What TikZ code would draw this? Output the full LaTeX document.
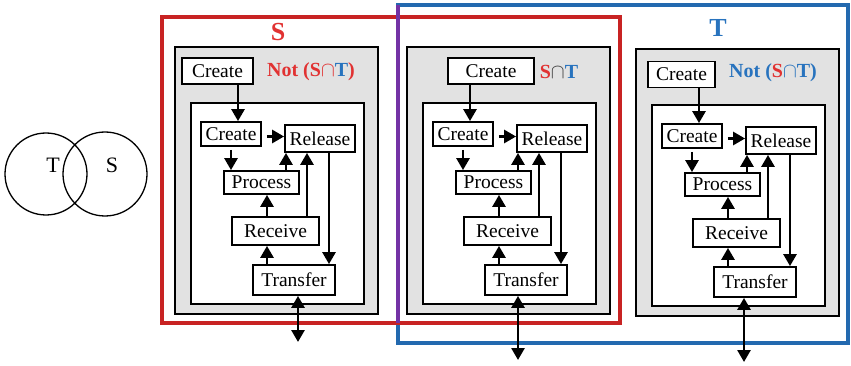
\documentclass[tikz,border=0pt]{standalone}
\usepackage{fontspec}
\setmainfont{Liberation Serif}
\usepackage{xcolor}
\usetikzlibrary{arrows.meta}

\definecolor{sred}{RGB}{200,35,35}
\definecolor{tblue}{RGB}{35,105,175}
\definecolor{stpurple}{RGB}{115,50,165}
\definecolor{lblred}{RGB}{225,50,50}
\definecolor{lblblue}{RGB}{40,115,190}
\definecolor{boxgray}{RGB}{226,226,226}

\tikzset{
  act/.style={draw, line width=1.8pt, fill=white, inner sep=0pt,
    font=\fontsize{19.5}{22}\selectfont},
  arr/.style={-{Triangle[width=13pt,length=12pt]}, line width=2.7pt},
  dblarr/.style={{Triangle[width=13pt,length=12pt]}-{Triangle[width=13pt,length=12pt]}, line width=2.7pt},
  tag/.style={font=\bfseries\fontsize{20}{24}\selectfont, inner sep=0pt},
  settag/.style={font=\bfseries\fontsize{26}{30}\selectfont, inner sep=0pt},
  venn/.style={circle, draw, line width=1.3pt, inner sep=0pt},
}

\begin{document}
\begin{tikzpicture}[x=1pt,y=-1pt]
\useasboundingbox (0,0) rectangle (851,366);

% venn
\node[venn, minimum size=82pt] (vennt) at (46,174) {};
\node[venn, minimum size=84pt] (venns) at (105,174) {};
\node[font=\fontsize{22}{26}\selectfont] (vlblt) at (53,165) {T};
\node[font=\fontsize{22}{26}\selectfont] (vlbls) at (112,165) {S};

% sets
\draw[tblue, line width=4pt] (398,5) rectangle (848,343);
\draw[sred, line width=4pt] (162,17) rectangle (620,323);
\draw[stpurple, line width=4pt] (398,5) -- (398,323);

\foreach \b/\dx/\dy/\tx/\ty/\tw/\ox/\oy in {s/0/0/217.5/71/71/298/342,
                                            st/232/0/259/71/86/286/360,
                                            t/461/2/220.5/72.5/67/283/360}
{
  \begin{scope}[shift={(\dx,\dy)}]
    \draw[line width=1.8pt, fill=boxgray] (175,47) rectangle (378,314);
    \draw[line width=1.8pt, fill=white] (191,103) rectangle (364,304);
    \node[act, minimum width=\tw pt, minimum height=26pt] (tc\b) at (\tx,\ty) {Create};
    \node[act, minimum width=60pt, minimum height=24pt] (ic\b) at (231,134) {Create};
    \node[act, minimum width=70pt, minimum height=27pt] (rel\b) at (320,138.5) {Release};
    \node[act, minimum width=75pt, minimum height=23pt] (pro\b) at (261.5,182.5) {Process};
    \node[act, minimum width=87pt, minimum height=28pt] (rcv\b) at (275.5,231) {Receive};
    \node[act, minimum width=82pt, minimum height=30pt] (trf\b) at (294,280) {Transfer};
    \coordinate (out\b) at (\ox,\oy);
  \end{scope}
  \draw[arr] ([xshift=7pt]ic\b.north |- tc\b.south) -- ([xshift=7pt]ic\b.north);
  \draw[arr] ([xshift=5pt,yshift=2pt]ic\b.east |- rel\b.west) -- ([yshift=2pt]rel\b.west);
  \draw[arr] ([yshift=-3pt]ic\b.south) -- (ic\b.south |- pro\b.north);
  \draw[arr] ([xshift=24.5pt]pro\b.north) -- ([xshift=24.5pt]pro\b.north |- rel\b.south);
  \draw[arr] ([xshift=31.5pt]rcv\b.north) -- ([xshift=31.5pt]rcv\b.north |- rel\b.south);
  \draw[arr] ([xshift=-8.5pt]rcv\b.north) -- ([xshift=-8.5pt]rcv\b.north |- pro\b.south);
  \draw[arr] ([xshift=-27pt]trf\b.north) -- ([xshift=-27pt]trf\b.north |- rcv\b.south);
  \draw[arr] ([xshift=9pt]rel\b.south) -- ([xshift=9pt]rel\b.south |- trf\b.north);
  \draw[dblarr] (trf\b.south -| out\b) -- (out\b);
}

% labels
\node[settag, lblred] (ttls) at (278,32) {S};
\node[settag, lblblue] (ttlt) at (718,28) {T};
\node[tag, lblred] (lbls) at (311,72) {Not (S$\cap$\textcolor{lblblue}{T})};
\node[tag] (lblst) at (559,72) {\textcolor{lblred}{S}\textcolor{darkgray}{$\cap$}\textcolor{lblblue}{T}};
\node[tag, lblblue] (lblt) at (773,73) {Not (\textcolor{lblred}{S}$\cap$T)};
\end{tikzpicture}
\end{document}
